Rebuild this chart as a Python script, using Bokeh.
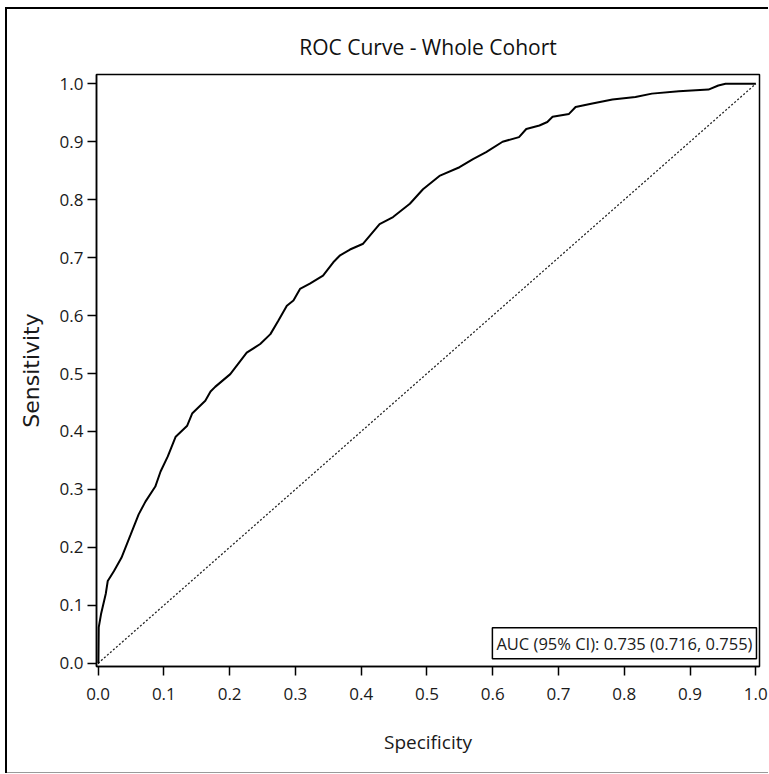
from bokeh.plotting import figure
from bokeh.models import FixedTicker, PrintfTickFormatter, Label, Range1d
from bokeh.embed import file_html
from bokeh.resources import INLINE

# ROC curve points (x = 1 - specificity axis labelled "Specificity")
fpr = [0.0, 0.0005, 0.001, 0.0045, 0.0117, 0.0147, 0.024, 0.0355, 0.0495, 0.0617,
       0.072, 0.087, 0.095, 0.106, 0.118, 0.1355, 0.143, 0.163, 0.171, 0.178,
       0.201, 0.226, 0.2465, 0.262, 0.274, 0.287, 0.297, 0.307, 0.322, 0.342,
       0.3576, 0.368, 0.383, 0.403, 0.428, 0.4485, 0.474, 0.494, 0.519, 0.5495,
       0.57, 0.59, 0.615, 0.64, 0.651, 0.671, 0.683, 0.691, 0.716, 0.726,
       0.7515, 0.782, 0.817, 0.842, 0.883, 0.928, 0.943, 0.954, 1.0]
tpr = [0.0, 0.0, 0.062, 0.085, 0.12, 0.142, 0.159, 0.182, 0.222, 0.257,
       0.279, 0.305, 0.331, 0.357, 0.391, 0.41, 0.431, 0.453, 0.469, 0.477,
       0.499, 0.536, 0.551, 0.568, 0.591, 0.617, 0.626, 0.646, 0.655, 0.669,
       0.692, 0.704, 0.714, 0.724, 0.758, 0.77, 0.793, 0.818, 0.841, 0.856,
       0.87, 0.882, 0.9, 0.908, 0.922, 0.928, 0.934, 0.943, 0.948, 0.96,
       0.966, 0.973, 0.977, 0.983, 0.987, 0.99, 0.997, 1.0, 1.0]
ref_x = [0.0, 1.0]
ref_y = [0.0, 1.0]
ticks = [0.0, 0.1, 0.2, 0.3, 0.4, 0.5, 0.6, 0.7, 0.8, 0.9, 1.0]
title_text = "ROC Curve - Whole Cohort"
x_label = "Specificity"
y_label = "Sensitivity"
auc_text = "AUC (95% CI): 0.735 (0.716, 0.755)"

FONT = "Open Sans"
TXT = "#1a1a1a"

p = figure(width=763, height=766, margin=(7, 0, 0, 5),
           output_backend="svg", toolbar_location=None,
           x_range=Range1d(-0.0024, 1.0056), y_range=Range1d(-0.0055, 1.016),
           min_border_left=91, min_border_right=9, min_border_top=67, min_border_bottom=107,
           styles={"background": "#ffffff",
                   "box-shadow": "inset 2px 2px 0 0 #000000, inset 0 -1px 0 0 #9a9a9a"})

p.title.text = title_text
p.title.align = "center"
p.title.text_font = FONT
p.title.text_font_size = "21px"
p.title.text_font_style = "normal"
p.title.text_color = "#111111"
p.title.standoff = 28

p.grid.visible = False
p.outline_line_color = "#000000"
p.outline_line_width = 1.5
p.background_fill_color = "white"
p.border_fill_alpha = 0.0

for ax in (p.xaxis[0], p.yaxis[0]):
    ax.ticker = FixedTicker(ticks=ticks)
    ax.formatter = PrintfTickFormatter(format="%.1f")
    ax.minor_tick_line_color = None
    ax.major_tick_in = 0
    ax.major_tick_out = 9
    ax.major_tick_line_color = "#000000"
    ax.major_tick_line_width = 1.5
    ax.axis_line_color = "#000000"
    ax.axis_line_width = 1.5
    ax.major_label_text_font = FONT
    ax.major_label_text_font_size = "17px"
    ax.major_label_text_color = TXT
    ax.axis_label_text_font = FONT
    ax.axis_label_text_font_size = "19px"
    ax.axis_label_text_font_style = "normal"
    ax.axis_label_text_color = TXT

p.xaxis.major_label_standoff = 12
p.yaxis.major_label_standoff = 4
p.xaxis.axis_label = x_label
p.xaxis.axis_label_standoff = 26
p.yaxis.axis_label = y_label
p.yaxis.axis_label_standoff = 13
p.yaxis.axis_label_text_font = "DejaVu Sans"
p.yaxis.axis_label_text_font_size = "22px"

p.line(ref_x, ref_y, line_color="#222222", line_width=1.3, line_dash="2 2")
p.line(fpr, tpr, line_color="#000000", line_width=2)

auc = Label(x=1.001, y=0.0078, text=auc_text, text_align="right", text_baseline="bottom",
            text_font=FONT, text_font_size="16.5px", text_color=TXT,
            border_line_color="#000000", border_line_width=1.5,
            background_fill_color="white", padding=4)
p.add_layout(auc)

open("out.html", "w").write(file_html(p, INLINE))
